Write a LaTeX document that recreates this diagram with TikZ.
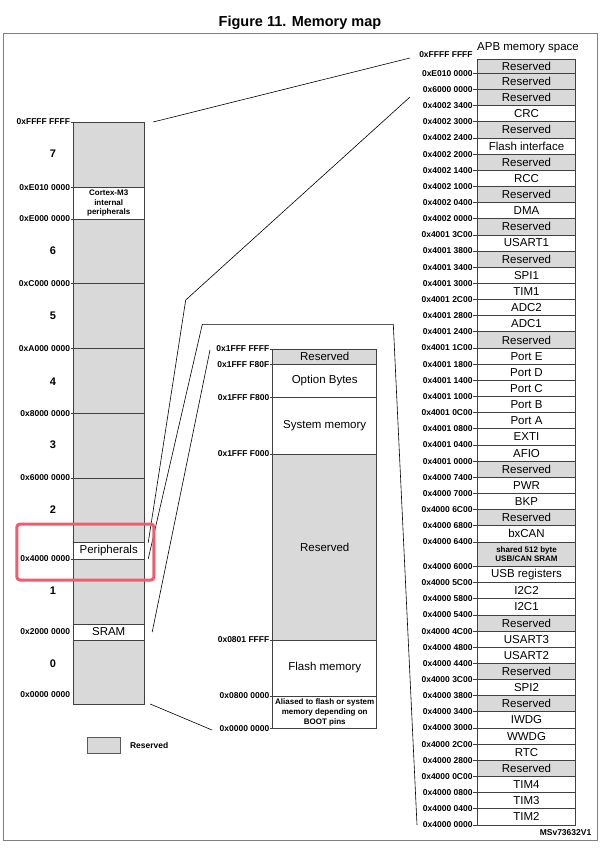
\documentclass[tikz,border=0pt]{standalone}
\usepackage{fontspec}
\setmainfont{Liberation Sans}
\usetikzlibrary{positioning}

\definecolor{resgray}{RGB}{217,217,217}
\definecolor{hilite}{RGB}{242,92,110}
\definecolor{framegray}{RGB}{128,128,128}
\newcommand{\addrfont}{\fontsize{8.5}{9}\selectfont\bfseries}
\newcommand{\notefont}{\fontsize{8}{9.8}\selectfont\bfseries}
\newcommand{\boxfont}{\fontsize{11.5}{13}\selectfont}

\begin{document}
\begin{tikzpicture}[x=1pt, y=-1pt,
        seg/.style={draw=black!75, line width=0.8pt, fill=white, inner sep=0pt, outer sep=0pt, align=center, font=\boxfont, anchor=north},
        lseg/.style={seg, minimum width=71pt},
        lres/.style={lseg, fill=resgray},
        mseg/.style={seg, minimum width=104pt},
        mres/.style={mseg, fill=resgray},
        reg/.style={seg, minimum width=98.4pt, minimum height=16.16pt},
        addr/.style={font=\addrfont, inner sep=0.5pt, anchor=east},
        regnum/.style={font=\fontsize{11}{13}\selectfont\bfseries},
        tick/.style={draw=black!75, line width=0.8pt},
        link/.style={line width=0.6pt},
        highlight/.style={draw=hilite, line width=3pt, rounded corners=3pt, inner sep=0pt}
    ]
    \useasboundingbox (0,0) rectangle (601,849);
    \node[font=\fontsize{14.5}{17}\selectfont\bfseries] (title) at (300,23) {Figure 11. Memory map};
    \draw[framegray, line width=1pt] (3,33) rectangle (597,840);

    % full 4 GB map
    \node[lres, minimum height=65.3pt] (lc7) at (108.7,122) {};
    \node[lseg, minimum height=31.7pt, font=\notefont, below=0pt of lc7] (lcCortex) {Cortex-M3\\internal\\peripherals};
    \node[lres, minimum height=64.7pt, below=0pt of lcCortex] (lc6) {};
    \node[lres, minimum height=65pt, below=0pt of lc6] (lc5) {};
    \node[lres, minimum height=64.6pt, below=0pt of lc5] (lc4) {};
    \node[lres, minimum height=64.7pt, below=0pt of lc4] (lc3) {};
    \node[lres, minimum height=64.7pt, below=0pt of lc3] (lc2) {};
    \node[lseg, minimum height=16.3pt, below=0pt of lc2] (lcPer) {Peripherals};
    \node[lres, minimum height=65pt, below=0pt of lcPer] (lc1) {};
    \node[lseg, minimum height=16pt, below=0pt of lc1] (lcSram) {SRAM};
    \node[lres, minimum height=64pt, below=0pt of lcSram] (lc0) {};

    \foreach \anc/\adr [count=\i] in {lc7.north west/0xFFFF FFFF, lcCortex.north west/0xE010 0000,
        lcCortex.south west/0xE000 0000, lc5.north west/0xC000 0000, lc4.north west/0xA000 0000,
        lc3.north west/0x8000 0000, lc2.north west/0x6000 0000, lcPer.south west/0x4000 0000} {
        \node[addr] (la\i) at ([xshift=-2.5pt]\anc) {\adr};
        \draw[tick] (la\i.east) -- (\anc);
    }
    \node[addr] (laSram) at ([xshift=-2.5pt]lcSram.west) {0x2000 0000};
    \node[addr] (laBot) at ([xshift=-2.5pt, yshift=9pt]lc0.south west) {0x0000 0000};

    \foreach \k/\yy in {7/154, 6/251, 5/316, 4/381.5, 3/445, 2/510, 1/590.7, 0/664}
        \node[regnum] (n\k) at (53,\yy) {\k};

    % code area
    \node[mres, minimum height=15.7pt] (mcRes1) at (324.7,349) {Reserved};
    \node[mseg, minimum height=32.6pt, below=0pt of mcRes1] (mcOpt) {Option Bytes};
    \node[mseg, minimum height=56.7pt, below=0pt of mcOpt] (mcSys) {System memory};
    \node[mres, minimum height=186pt, below=0pt of mcSys] (mcRes2) {Reserved};
    \node[mseg, minimum height=56pt, below=0pt of mcRes2] (mcFlash) {Flash memory};
    \node[mseg, minimum height=32.3pt, font=\notefont, below=0pt of mcFlash] (mcAlias) {Aliased to flash or system\\memory depending on\\BOOT pins};

    \foreach \anc/\adr [count=\i] in {mcRes1.north west/0x1FFF FFFF, mcOpt.north west/0x1FFF F80F,
        mcSys.north west/0x1FFF F800, mcRes2.north west/0x1FFF F000, mcFlash.north west/0x0801 FFFF,
        mcAlias.north west/0x0800 0000, mcAlias.south west/0x0000 0000} {
        \node[addr] (ma\i) at ([xshift=-2.7pt]\anc) {\adr};
        \draw[tick] (ma\i.east) -- (\anc);
    }

    % APB memory space
    \node[font=\fontsize{11.5}{13}\selectfont] (apbTitle) at (528,48) {APB memory space};
    \node[reg, fill=resgray, minimum height=14.3pt] (r1) at (526.5,59) {Reserved};
    \foreach \txt/\fl [count=\i from 2] in {Reserved/resgray, Reserved/resgray, CRC/white,
        Reserved/resgray, Flash interface/white, Reserved/resgray, RCC/white, Reserved/resgray,
        DMA/white, Reserved/resgray, USART1/white, Reserved/resgray, SPI1/white, TIM1/white,
        ADC2/white, ADC1/white, Reserved/resgray, Port E/white, Port D/white, Port C/white,
        Port B/white, Port A/white, EXTI/white, AFIO/white, Reserved/resgray, PWR/white,
        BKP/white, Reserved/resgray, bxCAN/white} {
        \pgfmathtruncatemacro{\j}{\i-1}
        \node[reg, fill=\fl, below=0pt of r\j] (r\i) {\txt};
    }
    \node[reg, fill=resgray, minimum height=24.5pt, font=\notefont, below=0pt of r30] (r31) {shared 512 byte\\USB/CAN SRAM};
    \foreach \txt/\fl [count=\i from 32] in {USB registers/white, I2C2/white, I2C1/white,
        Reserved/resgray, USART3/white, USART2/white, Reserved/resgray, SPI2/white,
        Reserved/resgray, IWDG/white, WWDG/white, RTC/white, Reserved/resgray, TIM4/white,
        TIM3/white, TIM2/white} {
        \pgfmathtruncatemacro{\j}{\i-1}
        \node[reg, fill=\fl, below=0pt of r\j] (r\i) {\txt};
    }

    \node[addr] (ra1) at ([xshift=-4pt, yshift=4pt]r1.north west) {0xFFFF FFFF};
    \foreach \adr [count=\i from 2] in {0xE010 0000, 0x6000 0000, 0x4002 3400, 0x4002 3000,
        0x4002 2400, 0x4002 2000, 0x4002 1400, 0x4002 1000, 0x4002 0400, 0x4002 0000,
        0x4001 3C00, 0x4001 3800, 0x4001 3400, 0x4001 3000, 0x4001 2C00, 0x4001 2800,
        0x4001 2400, 0x4001 1C00, 0x4001 1800, 0x4001 1400, 0x4001 1000, 0x4001 0C00,
        0x4001 0800, 0x4001 0400, 0x4001 0000, 0x4000 7400, 0x4000 7000, 0x4000 6C00,
        0x4000 6800, 0x4000 6400, 0x4000 6000, 0x4000 5C00, 0x4000 5800, 0x4000 5400,
        0x4000 4C00, 0x4000 4800, 0x4000 4400, 0x4000 3C00, 0x4000 3800, 0x4000 3400,
        0x4000 3000, 0x4000 2C00, 0x4000 2800, 0x4000 0C00, 0x4000 0800, 0x4000 0400} {
        \node[addr] (ra\i) at ([xshift=-4pt]r\i.north west) {\adr};
        \draw[tick] (ra\i.east) -- (r\i.north west);
    }
    \node[addr] (ra48) at ([xshift=-4pt]r47.south west) {0x4000 0000};
    \draw[tick] (ra48.east) -- (r47.south west);

    % zoom lines
    \coordinate (apbTop) at (410,58);
    \coordinate (apbMid) at (410,97);
    \coordinate (apbLow) at (417,825);
    \coordinate (perBendA) at (185.7,300);
    \coordinate (perBendB) at (202.3,324.3);
    \coordinate (perBendC) at (393.3,324.3);
    \coordinate (codeTop) at (210,350);
    \coordinate (codeBot) at (212,730);
    \draw[link] ([xshift=9pt]lc7.north east) -- (apbTop);
    \draw[link] ([xshift=4pt]lcPer.north east) -- (perBendA) -- (apbMid);
    \draw[link] ([xshift=4pt]lcPer.south east) -- (perBendB) -- (perBendC) -- (apbLow);
    \draw[link] ([xshift=8pt]lcSram.east) -- (codeTop);
    \draw[link] ([xshift=6pt]lc0.south east) -- (codeBot);

    \node[highlight, minimum width=137pt, minimum height=56pt] (hlPer) at (85.4,552) {};

    % legend
    \node[draw=black!65, line width=0.8pt, fill=resgray, minimum width=33pt, minimum height=16pt] (legBox) at (103.5,745) {};
    \node[addr, right=9pt of legBox] (legTxt) {Reserved};
    \node[addr] (msv) at (592,833) {MSv73632V1};
\end{tikzpicture}
\end{document}
